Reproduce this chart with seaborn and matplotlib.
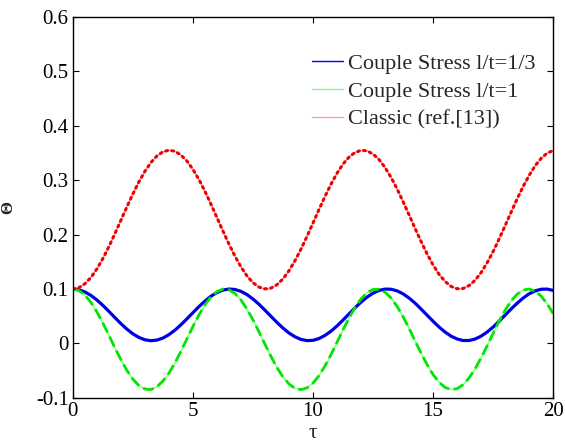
import numpy as np
import pandas as pd
import matplotlib
matplotlib.use("Agg")
import matplotlib.pyplot as plt
import seaborn as sns

# Non-dimensional time samples (step 0.25)
tau = [i * 0.25 for i in range(81)]

# Couple stress, l/t = 1/3
theta_cs13 = [
    0.1000, 0.0986, 0.0946, 0.0882, 0.0798, 0.0698, 0.0588, 0.0474, 0.0363,
    0.0262, 0.0175, 0.0110, 0.0066, 0.0050, 0.0061, 0.0098, 0.0161, 0.0243,
    0.0342, 0.0452, 0.0565, 0.0676, 0.0778, 0.0867, 0.0935, 0.0980, 0.0999,
    0.0991, 0.0956, 0.0897, 0.0816, 0.0719, 0.0610, 0.0497, 0.0385, 0.0281,
    0.0191, 0.0121, 0.0073, 0.0051, 0.0056, 0.0089, 0.0147, 0.0225, 0.0321,
    0.0429, 0.0542, 0.0654, 0.0758, 0.0850, 0.0923, 0.0973, 0.0998, 0.0995,
    0.0966, 0.0911, 0.0834, 0.0740, 0.0632, 0.0519, 0.0407, 0.0301, 0.0208,
    0.0133, 0.0081, 0.0053, 0.0053, 0.0080, 0.0133, 0.0208, 0.0300, 0.0406,
    0.0519, 0.0632, 0.0738, 0.0833, 0.0911, 0.0965, 0.0995, 0.0998, 0.0974]

# Couple stress, l/t = 1
theta_cs1 = [
    0.1000, 0.0972, 0.0888, 0.0755, 0.0579, 0.0372, 0.0149, -0.0081, -0.0300,
    -0.0496, -0.0658, -0.0775, -0.0838, -0.0848, -0.0796, -0.0692, -0.0545, -0.0360,
    -0.0145, 0.0084, 0.0312, 0.0524, 0.0708, 0.0855, 0.0954, 0.0998, 0.0985,
    0.0917, 0.0797, 0.0632, 0.0433, 0.0212, -0.0017, -0.0241, -0.0444, -0.0617,
    -0.0746, -0.0826, -0.0850, -0.0817, -0.0730, -0.0592, -0.0414, -0.0206, 0.0020,
    0.0249, 0.0465, 0.0661, 0.0820, 0.0931, 0.0991, 0.0994, 0.0941, 0.0835,
    0.0682, 0.0492, 0.0276, 0.0047, -0.0179, -0.0390, -0.0572, -0.0714, -0.0809,
    -0.0849, -0.0832, -0.0760, -0.0634, -0.0467, -0.0266, -0.0045, 0.0185, 0.0408,
    0.0611, 0.0779, 0.0905, 0.0980, 0.0999, 0.0962, 0.0870, 0.0729, 0.0548]

# Classical solution
theta_classic = [
    0.1000, 0.1024, 0.1096, 0.1212, 0.1369, 0.1560, 0.1779, 0.2016, 0.2263,
    0.2510, 0.2748, 0.2969, 0.3163, 0.3324, 0.3445, 0.3521, 0.3550, 0.3530,
    0.3462, 0.3351, 0.3197, 0.3011, 0.2795, 0.2559, 0.2312, 0.2064, 0.1825,
    0.1602, 0.1405, 0.1240, 0.1115, 0.1035, 0.1001, 0.1016, 0.1078, 0.1186,
    0.1335, 0.1520, 0.1733, 0.1967, 0.2213, 0.2461, 0.2702, 0.2927, 0.3126,
    0.3296, 0.3423, 0.3509, 0.3547, 0.3538, 0.3479, 0.3378, 0.3231, 0.3052,
    0.2840, 0.2605, 0.2362, 0.2114, 0.1873, 0.1646, 0.1443, 0.1269, 0.1139,
    0.1047, 0.1004, 0.1009, 0.1062, 0.1160, 0.1302, 0.1480, 0.1687, 0.1919,
    0.2163, 0.2412, 0.2655, 0.2883, 0.3087, 0.3265, 0.3400, 0.3496, 0.3544]

labels = ["Couple Stress l/t=1/3", "Couple Stress l/t=1", "Classic (ref.[13])"]
x_ticks = [0, 5, 10, 15, 20]
y_ticks = [-0.1, 0, 0.1, 0.2, 0.3, 0.4, 0.5, 0.6]
y_ticklabels = ["-0.1", "0", "0.1", "0.2", "0.3", "0.4", "0.5", "0.6"]

sns.set_theme(style="ticks")
plt.rcParams["font.family"] = ["Liberation Serif", "DejaVu Serif"]

fig = plt.figure(figsize=(5.65, 4.44), dpi=100)
ax = fig.add_axes([0.129, 0.104, 0.850, 0.858])

df = pd.DataFrame({"tau": tau, "cs13": theta_cs13, "cs1": theta_cs1, "cl": theta_classic})

# thin guide lines carry the legend entries
sns.lineplot(data=df, x="tau", y="cs13", ax=ax, color="#0000ff", lw=1.0, label=labels[0])
sns.lineplot(data=df, x="tau", y="cs1", ax=ax, color="#80ff80", lw=1.0, label=labels[1])
sns.lineplot(data=df, x="tau", y="cl", ax=ax, color="#ffa0a0", lw=1.0, label=labels[2])

# heavy styled curves on top
sns.lineplot(data=df, x="tau", y="cs13", ax=ax, color="#0000e6", lw=2.3, legend=False)
sns.lineplot(data=df, x="tau", y="cs1", ax=ax, color="#00e600", lw=2.0, legend=False)
ax.lines[-1].set_dashes((4, 1.6))
sns.lineplot(data=df, x="tau", y="cl", ax=ax, color="#ee0000", lw=2.2, legend=False)
ax.lines[-1].set_dashes((0.6, 1.4))
ax.lines[-1].set_dash_capstyle("round")

ax.set_xlim(0, 20)
ax.set_ylim(-0.1, 0.6)
ax.set_xticks(x_ticks)
ax.set_xticklabels([str(v) for v in x_ticks])
ax.set_yticks(y_ticks)
ax.set_yticklabels(y_ticklabels)
ax.tick_params(direction="in", top=True, right=True, length=4, width=0.8,
               labelsize=15, colors="black", pad=3)
for s in ax.spines.values():
    s.set_visible(True)
    s.set_color("black")
    s.set_linewidth(1.0)

ax.set_xlabel("τ", fontsize=15, labelpad=2)
ax.set_ylabel("Θ", fontsize=12, labelpad=14, fontweight="bold")

leg = ax.legend(loc="upper right", bbox_to_anchor=(0.963, 0.905), frameon=False,
                fontsize=16, handlelength=1.4, handletextpad=0.2, labelspacing=0.33,
                borderaxespad=0.0, borderpad=0.0)

fig.savefig("out.png", dpi=100)
